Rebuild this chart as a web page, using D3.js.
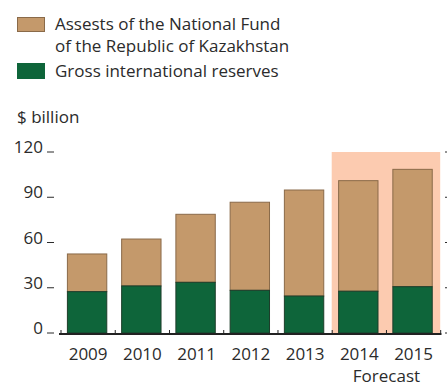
<!DOCTYPE html>
<html>
<head>
<meta charset="utf-8">
<script src="https://cdn.jsdelivr.net/npm/d3@7"></script>
<style>
  body { margin: 0; background: #fff; }
  svg text { font-family: "Open Sans", sans-serif; fill: #2b2b2b; }
</style>
</head>
<body>
<svg id="chart" width="447" height="386"></svg>
<script>
var years = ["2009", "2010", "2011", "2012", "2013", "2014", "2015"];
var reserves = [27.4, 31.2, 33.6, 28.3, 24.5, 27.7, 30.7];
var nationalFund = [25.0, 31.1, 45.1, 58.4, 70.3, 73.3, 77.8];
var yTicks = [0, 30, 60, 90, 120];
var forecastYears = ["2014", "2015"];

var fontSize = "17px";
var svg = d3.select("#chart");

var x = d3.scaleBand().domain(years).range([61, 440.7]);
var y = d3.scaleLinear().domain([0, 120]).range([333, 152]);

var barOffset = 6.4, barWidth = x.bandwidth() * 0.726;

// forecast shading
svg.append("rect")
    .attr("x", x(forecastYears[0]) - 0.5)
    .attr("y", y(120))
    .attr("width", x(forecastYears[1]) + x.bandwidth() - x(forecastYears[0]))
    .attr("height", y(0) - y(120))
    .attr("fill", "#fccbb0");

var data = years.map(function (d, i) {
    return {year: d, reserves: reserves[i], fund: nationalFund[i]};
});

// fund on top of reserves
svg.selectAll(".bar-fund")
    .data(data)
    .enter()
    .append("rect")
    .attr("class", "bar-fund")
    .attr("x", function (d) { return x(d.year) + barOffset; })
    .attr("y", function (d) { return y(d.reserves + d.fund); })
    .attr("width", barWidth)
    .attr("height", function (d) { return y(d.reserves) - y(d.reserves + d.fund); })
    .attr("fill", "#c4996b")
    .attr("stroke", "#8a6a49")
    .attr("stroke-width", 1);

svg.selectAll(".bar-res")
    .data(data)
    .enter()
    .append("rect")
    .attr("class", "bar-res")
    .attr("x", function (d) { return x(d.year) + barOffset; })
    .attr("y", function (d) { return y(d.reserves); })
    .attr("width", barWidth)
    .attr("height", function (d) { return y(0) - y(d.reserves); })
    .attr("fill", "#0e653a")
    .attr("stroke", "#1d3d2a")
    .attr("stroke-width", 1);

// y axis labels and dashes
var yg = svg.append("g");
yg.selectAll("text")
    .data(yTicks)
    .enter()
    .append("text")
    .attr("x", 43)
    .attr("y", function (d) { return y(d) + 1; })
    .attr("text-anchor", "end")
    .style("font-size", fontSize)
    .text(function (d) { return d; });
yg.selectAll(".ltick")
    .data(yTicks)
    .enter()
    .append("line")
    .attr("class", "ltick")
    .attr("x1", 47).attr("x2", 54)
    .attr("y1", function (d) { return y(d); })
    .attr("y2", function (d) { return y(d); })
    .attr("stroke", "#2b2b2b")
    .attr("stroke-width", 1);
yg.selectAll(".rtick")
    .data(yTicks)
    .enter()
    .append("line")
    .attr("class", "rtick")
    .attr("x1", 445).attr("x2", 447)
    .attr("y1", function (d) { return y(d); })
    .attr("y2", function (d) { return y(d); })
    .attr("stroke", "#2b2b2b")
    .attr("stroke-width", 1);

// x axis
var xAxis = d3.axisBottom(x).tickSize(0).tickPadding(0);
var xg = svg.append("g").attr("transform", "translate(0," + y(0) + ")").call(xAxis);
xg.select(".domain").remove();
xg.selectAll("text")
    .attr("y", 27)
    .attr("dy", null)
    .style("font-size", fontSize)
    .style("font-family", "'Open Sans', sans-serif")
    .attr("fill", "#2b2b2b");

svg.append("line")
    .attr("x1", 59).attr("x2", 441.5)
    .attr("y1", y(0) + 1).attr("y2", y(0) + 1)
    .attr("stroke", "#222")
    .attr("stroke-width", 2);

var bounds = years.map(function (d) { return x(d); }).concat([x(years[years.length - 1]) + x.bandwidth()]);
svg.selectAll(".xtick")
    .data(bounds)
    .enter()
    .append("line")
    .attr("class", "xtick")
    .attr("x1", function (d) { return d; })
    .attr("x2", function (d) { return d; })
    .attr("y1", y(0) - 3)
    .attr("y2", y(0))
    .attr("stroke", "#222")
    .attr("stroke-width", 1);

svg.append("text")
    .attr("x", x("2014") + x.bandwidth())
    .attr("y", 382)
    .attr("text-anchor", "middle")
    .style("font-size", fontSize)
    .text("Forecast");

// legend
var legend = svg.append("g");
legend.append("rect")
    .attr("x", 17.5).attr("y", 17.5).attr("width", 27).attr("height", 14)
    .attr("fill", "#c4996b").attr("stroke", "#8a6a49");
legend.append("text").attr("x", 55).attr("y", 30).style("font-size", fontSize)
    .text("Assests of the National Fund");
legend.append("text").attr("x", 55).attr("y", 52).style("font-size", fontSize)
    .text("of the Republic of Kazakhstan");
legend.append("rect")
    .attr("x", 17).attr("y", 63).attr("width", 28).attr("height", 16)
    .attr("fill", "#0e653a");
legend.append("text").attr("x", 55).attr("y", 77).style("font-size", fontSize)
    .text("Gross international reserves");

svg.append("text")
    .attr("x", 17).attr("y", 123)
    .style("font-size", fontSize)
    .text("$ billion");
</script>
</body>
</html>
